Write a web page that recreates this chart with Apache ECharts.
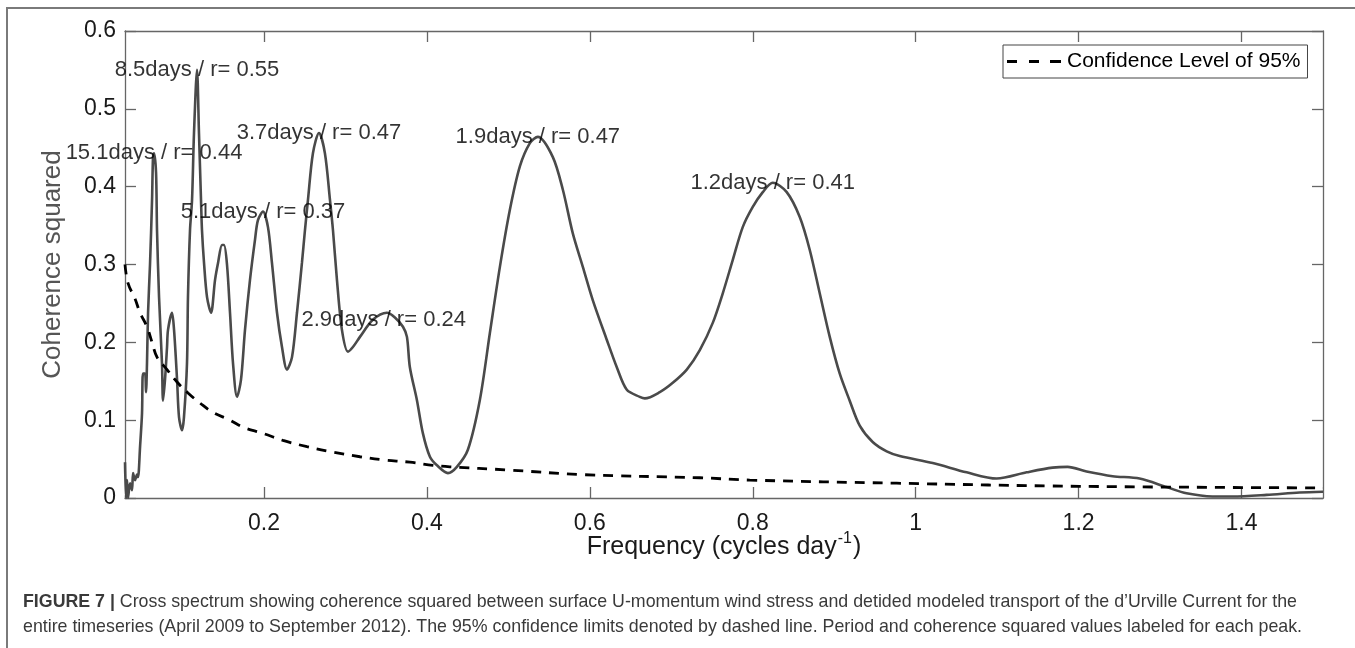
<!DOCTYPE html>
<html>
<head>
<meta charset="utf-8">
<script src="https://cdn.jsdelivr.net/npm/echarts@6/dist/echarts.min.js"></script>
<style>
html,body{margin:0;padding:0;background:#fff;}
#chart{width:1355px;height:648px;}
</style>
</head>
<body>
<div id="chart"></div>
<script>
// Coherence squared curve (frequency in cycles/day, coherence squared)
const freq = [0.0294,0.0307,0.0319,0.0331,0.0356,0.0380,0.0393,0.0417,0.0442,0.0454,0.0479,0.0503,0.0515,0.0540,0.0552,0.0564,0.0577,0.0601,0.0626,0.0638,0.0650,0.0675,0.0687,0.0712,0.0748,0.0761,0.0785,0.0810,0.0822,0.0871,0.0896,0.0933,0.0957,0.0994,0.1018,0.1055,0.1067,0.1092,0.1117,0.1141,0.1178,0.1202,0.1227,0.1239,0.1264,0.1301,0.1350,0.1399,0.1436,0.1485,0.1509,0.1546,0.1583,0.1620,0.1669,0.1718,0.1767,0.1828,0.1890,0.1926,0.1988,0.2049,0.2098,0.2160,0.2221,0.2282,0.2344,0.2405,0.2466,0.2503,0.2540,0.2601,0.2675,0.2748,0.2810,0.2847,0.2896,0.2957,0.3031,0.3092,0.3178,0.3337,0.3509,0.3607,0.3706,0.3755,0.3791,0.3877,0.3951,0.4037,0.4123,0.4258,0.4368,0.4503,0.4650,0.4773,0.4896,0.5018,0.5141,0.5264,0.5362,0.5546,0.5669,0.5791,0.5914,0.6037,0.6209,0.6331,0.6454,0.6613,0.6675,0.6859,0.7018,0.7190,0.7350,0.7509,0.7632,0.7755,0.7877,0.8000,0.8123,0.8245,0.8417,0.8577,0.8699,0.8822,0.8945,0.9067,0.9190,0.9313,0.9472,0.9644,0.9804,1.0209,1.0626,1.0994,1.1362,1.1681,1.1865,1.2098,1.2417,1.2748,1.3080,1.3325,1.3644,1.3890,1.4307,1.4712,1.5000];
const coherence = [0.046,0.000,0.023,0.000,0.019,0.010,0.032,0.023,0.030,0.027,0.066,0.109,0.160,0.160,0.136,0.173,0.238,0.300,0.383,0.438,0.443,0.418,0.344,0.258,0.173,0.125,0.152,0.194,0.216,0.238,0.216,0.152,0.104,0.087,0.104,0.173,0.258,0.344,0.383,0.469,0.550,0.469,0.383,0.344,0.302,0.258,0.238,0.280,0.302,0.325,0.325,0.300,0.238,0.173,0.130,0.152,0.216,0.280,0.332,0.357,0.368,0.348,0.302,0.238,0.194,0.165,0.181,0.238,0.302,0.344,0.383,0.443,0.469,0.443,0.383,0.344,0.280,0.216,0.188,0.194,0.207,0.229,0.238,0.232,0.220,0.207,0.168,0.126,0.083,0.053,0.042,0.032,0.040,0.062,0.126,0.212,0.297,0.370,0.426,0.456,0.464,0.438,0.396,0.340,0.297,0.254,0.203,0.168,0.139,0.130,0.128,0.136,0.148,0.165,0.190,0.225,0.263,0.306,0.348,0.374,0.393,0.405,0.393,0.361,0.319,0.263,0.207,0.160,0.125,0.093,0.072,0.060,0.054,0.045,0.033,0.025,0.033,0.039,0.040,0.034,0.028,0.025,0.014,0.006,0.002,0.002,0.004,0.007,0.008];

// 95% confidence level curve
const confFreq = [0.0294,0.0331,0.0417,0.0479,0.0564,0.0626,0.0687,0.0810,0.0933,0.1067,0.1215,0.1374,0.1583,0.1742,0.1988,0.2233,0.2528,0.2847,0.3178,0.3460,0.3791,0.4074,0.4282,0.4994,0.5914,0.7350,0.7963,0.9767,1.2012,1.5000];
const confLevel = [0.300,0.276,0.256,0.238,0.220,0.200,0.181,0.165,0.149,0.135,0.122,0.110,0.100,0.091,0.083,0.074,0.066,0.059,0.053,0.049,0.046,0.042,0.040,0.036,0.030,0.026,0.023,0.019,0.015,0.013];

// Peak annotations
const peakFreq = [0.0650,0.1178,0.1988,0.2675,0.3470,0.5362,0.8245];
const peakCoh = [0.443,0.550,0.368,0.469,0.229,0.464,0.405];
const peakLabels = ['15.1days / r= 0.44','8.5days / r= 0.55','5.1days / r= 0.37','3.7days / r= 0.47','2.9days / r= 0.24','1.9days / r= 0.47','1.2days / r= 0.41'];

// Ticks
const xTicks = [0.2,0.4,0.6,0.8,1.0,1.2,1.4];
const yTicks = [0,0.1,0.2,0.3,0.4,0.5,0.6];

const legendName = 'Confidence Level of 95%';
const captionLine1 = '{b|FIGURE 7 |} Cross spectrum showing coherence squared between surface U-momentum wind stress and detided modeled transport of the d\u2019Urville Current for the';
const captionLine2 = 'entire timeseries (April 2009 to September 2012). The 95% confidence limits denoted by dashed line. Period and coherence squared values labeled for each peak.';

const FONT = '"Liberation Sans", Arial, Helvetica, sans-serif';
const axisColor = '#666';

const chart = echarts.init(document.getElementById('chart'), null, {renderer: 'canvas'});

const xAxisCommon = {
  type: 'value', min: 0.0294, max: 1.5,
  axisLine: {show: true, onZero: false, lineStyle: {color: axisColor, width: 1.3}},
  axisTick: {show: true, inside: true, length: 11, customValues: xTicks, lineStyle: {color: axisColor, width: 1.3}},
  splitLine: {show: false}
};
const yAxisCommon = {
  type: 'value', min: 0, max: 0.6, interval: 0.1,
  axisLine: {show: true, onZero: false, lineStyle: {color: axisColor, width: 1.3}},
  axisTick: {show: true, inside: true, length: 11, lineStyle: {color: axisColor, width: 1.3}},
  splitLine: {show: false}
};

chart.setOption({
  animation: false,
  backgroundColor: '#fff',
  textStyle: {fontFamily: FONT},
  grid: {left: 125, top: 31, right: 32, bottom: 150, containLabel: false},
  legend: {
    data: [legendName],
    left: 1003, top: 45,
    padding: [6, 7, 6, 4],
    borderColor: '#444', borderWidth: 1,
    itemWidth: 54, itemHeight: 3, itemGap: 5,
    icon: 'path://M0 0H10V3H0Z M22 0H32V3H22Z M43 0H54V3H43Z',
    itemStyle: {color: '#000'},
    textStyle: {fontFamily: FONT, fontSize: 21, color: '#000', padding: [0,0,0,1]}
  },
  xAxis: [
    Object.assign({}, xAxisCommon, {
      position: 'bottom',
      axisLabel: {show: true, customValues: xTicks, margin: 14, fontSize: 23, color: '#1a1a1a', fontFamily: FONT},
      name: 'Frequency (cycles day{sup|-1})',
      nameLocation: 'middle', nameGap: 33, nameMoveOverlap: false,
      nameTextStyle: {fontSize: 25, color: '#1a1a1a', fontFamily: FONT,
        rich: {sup: {fontSize: 16, verticalAlign: 'top', padding: [0, 1, 17, 1], color: '#1a1a1a', fontFamily: FONT}}}
    }),
    Object.assign({}, xAxisCommon, {
      position: 'top',
      axisLabel: {show: false}
    })
  ],
  yAxis: [
    Object.assign({}, yAxisCommon, {
      position: 'left',
      axisLabel: {show: true, margin: 9, fontSize: 23, color: '#1a1a1a', fontFamily: FONT,
        formatter: v => (v === 0 ? '0' : v.toFixed(1))},
      name: 'Coherence squared', nameLocation: 'middle', nameGap: 59, nameRotate: 90, nameMoveOverlap: false,
      nameTextStyle: {fontSize: 26, color: '#555', fontFamily: FONT}
    }),
    Object.assign({}, yAxisCommon, {
      position: 'right',
      axisLabel: {show: false}
    })
  ],
  series: [
    {
      name: 'Coherence squared', type: 'line', xAxisIndex: 0, yAxisIndex: 0,
      data: freq.map((f, i) => [f, coherence[i]]),
      showSymbol: false, symbol: 'none', smooth: 0.3,
      lineStyle: {color: '#4a4a4a', width: 2.6}, z: 3, silent: true
    },
    {
      name: legendName, type: 'line', xAxisIndex: 0, yAxisIndex: 0,
      data: confFreq.map((f, i) => [f, confLevel[i]]),
      showSymbol: false, symbol: 'none', smooth: 0.4,
      lineStyle: {color: '#000', width: 2.8, type: [10, 8]}, itemStyle: {color: '#000'}, z: 4, silent: true
    },
    {
      name: 'labels', type: 'scatter', xAxisIndex: 0, yAxisIndex: 0,
      data: peakFreq.map((f, i) => ({value: [f, peakCoh[i]], label: {formatter: peakLabels[i]}})),
      symbolSize: 1, itemStyle: {color: 'rgba(0,0,0,0)'},
      label: {show: true, position: 'inside', fontSize: 22, color: '#000', fontFamily: FONT, textBorderWidth: 0},
      z: 6, silent: true
    }
  ],
  graphic: [
    {type: 'rect', shape: {x: 7, y: 8, width: 1400, height: 700}, style: {fill: 'none', stroke: '#7a7a7a', lineWidth: 2}, z: 0, silent: true},
    {type: 'text', left: 23, top: 593, style: {text: captionLine1, fontSize: 17.8, fontFamily: FONT, fill: '#3a3a3a',
      rich: {b: {fontSize: 17.8, fontWeight: 'bold', fontFamily: FONT, fill: '#3a3a3a'}}}, silent: true},
    {type: 'text', left: 23, top: 618, style: {text: captionLine2, fontSize: 17.8, fontFamily: FONT, fill: '#3a3a3a'}, silent: true}
  ]
});
</script>
</body>
</html>
